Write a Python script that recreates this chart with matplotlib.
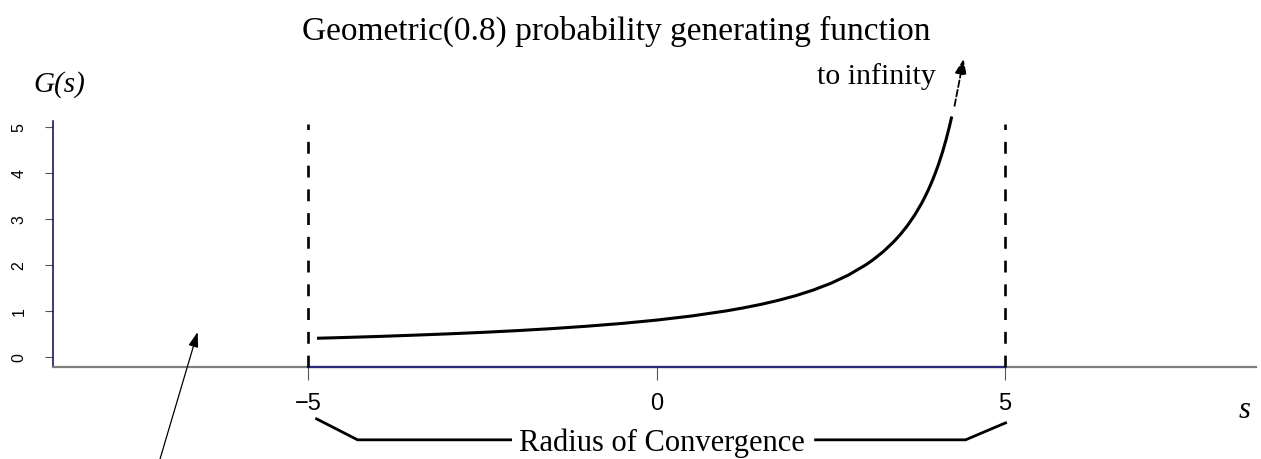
import matplotlib
matplotlib.use("Agg")
import matplotlib.pyplot as plt

# ---- data ----
s_vals = [-4.85, -4.5, -4.0, -3.5, -3.0, -2.5, -2.0, -1.5, -1.0, -0.5, 0.0, 0.5,
          1.0, 1.25, 1.5, 1.75, 2.0, 2.25, 2.5, 2.75, 3.0, 3.1, 3.25, 3.4, 3.5,
          3.6, 3.7, 3.8, 3.85, 3.9, 3.95, 4.0, 4.05, 4.1, 4.15, 4.2, 4.23]
g_vals = [0.406, 0.421, 0.444, 0.471, 0.500, 0.533, 0.571, 0.615, 0.667, 0.727,
          0.800, 0.889, 1.000, 1.067, 1.143, 1.231, 1.333, 1.455, 1.600, 1.778,
          2.000, 2.105, 2.286, 2.500, 2.667, 2.857, 3.077, 3.333, 3.478, 3.636,
          3.810, 4.000, 4.211, 4.444, 4.706, 5.000, 5.195]
radius = [-5, 5]
x_ticks = [-5, 0, 5]
x_tick_labels = ["\u22125", "0", "5"]
y_ticks = [0, 1, 2, 3, 4, 5]
y_tick_labels = ["0", "1", "2", "3", "4", "5"]
title = "Geometric(0.8) probability generating function"

W, H = 1261, 460
fig = plt.figure(figsize=(W / 100, H / 100), dpi=100)
ax = fig.add_axes([53 / W, (H - 368) / H, (1256 - 53) / W, (368 - 122) / H])
ax.set_xlim(-8.66, 8.6)
ax.set_ylim(-0.22, 5.13)

for sp in ["top", "right"]:
    ax.spines[sp].set_visible(False)
ax.spines["bottom"].set_color("#7f7f7f")
ax.spines["bottom"].set_linewidth(1.6)
ax.spines["left"].set_color("#1a1a5e")
ax.spines["left"].set_linewidth(1.2)

sans = ["Liberation Sans", "DejaVu Sans"]
serif = ["Liberation Serif", "DejaVu Serif"]

ax.set_xticks(x_ticks)
ax.set_xticklabels(x_tick_labels, family=sans, fontsize=17)
ax.tick_params(axis="x", length=9, width=0.8, color="#555555", pad=9)
ax.set_yticks(y_ticks)
ax.set_yticklabels(y_tick_labels, family=sans, fontsize=11.5, rotation=90, va="center")
ax.tick_params(axis="y", length=6, width=0.8, color="#555555", pad=13)

# blue segment of the axis inside the radius of convergence
ax.plot(radius, [-0.22, -0.22], color="#2b2b7a", lw=1.6, clip_on=False, zorder=3)

# vertical dashed lines at the radius
for r in radius:
    ax.plot([r, r], [-0.22, 5.07], color="black", lw=1.9, ls=(0, (4.5, 4.5)),
            clip_on=False, zorder=4)

# the PGF curve
ax.plot(s_vals, g_vals, color="black", lw=2.2, clip_on=False, zorder=5)

# dashed arrow "to infinity"
ax.annotate("", xy=(4.405, 6.48), xytext=(4.275, 5.46), annotation_clip=False,
            arrowprops=dict(arrowstyle="-|>,head_length=0.9,head_width=0.35",
                            color="black", lw=1.3, ls="--", shrinkA=0, shrinkB=0))
fig.text(936 / W, 1 - 84 / H, "to infinity", family=serif, fontsize=21.5,
         ha="right", va="baseline")

# lower-left arrow
ax.annotate("", xy=(-6.585, 0.54), xytext=(-7.14, -2.3), annotation_clip=False,
            arrowprops=dict(arrowstyle="-|>,head_length=0.9,head_width=0.3",
                            color="black", lw=0.9, shrinkA=0, shrinkB=0))

# radius of convergence bracket
ax.plot([-4.878, -4.29, -2.095], [-1.348, -1.804, -1.804], color="black", lw=2.0,
        clip_on=False, solid_joinstyle="miter")
ax.plot([2.281, 4.433, 5.007], [-1.804, -1.804, -1.435], color="black", lw=2.0,
        clip_on=False, solid_joinstyle="miter")
fig.text(662 / W, 1 - 451 / H, "Radius of Convergence", family=serif, fontsize=22,
         ha="center", va="baseline")

# labels
fig.text(616 / W, 1 - 40 / H, title, family=serif, fontsize=24, ha="center",
         va="baseline")
fig.text(59 / W, 1 - 92 / H, "G(s)", family=serif, style="italic", fontsize=21,
         ha="center", va="baseline")
fig.text(1245 / W, 1 - 418 / H, "s", family=serif, style="italic", fontsize=22,
         ha="center", va="baseline")

fig.savefig("out.png", dpi=100)
